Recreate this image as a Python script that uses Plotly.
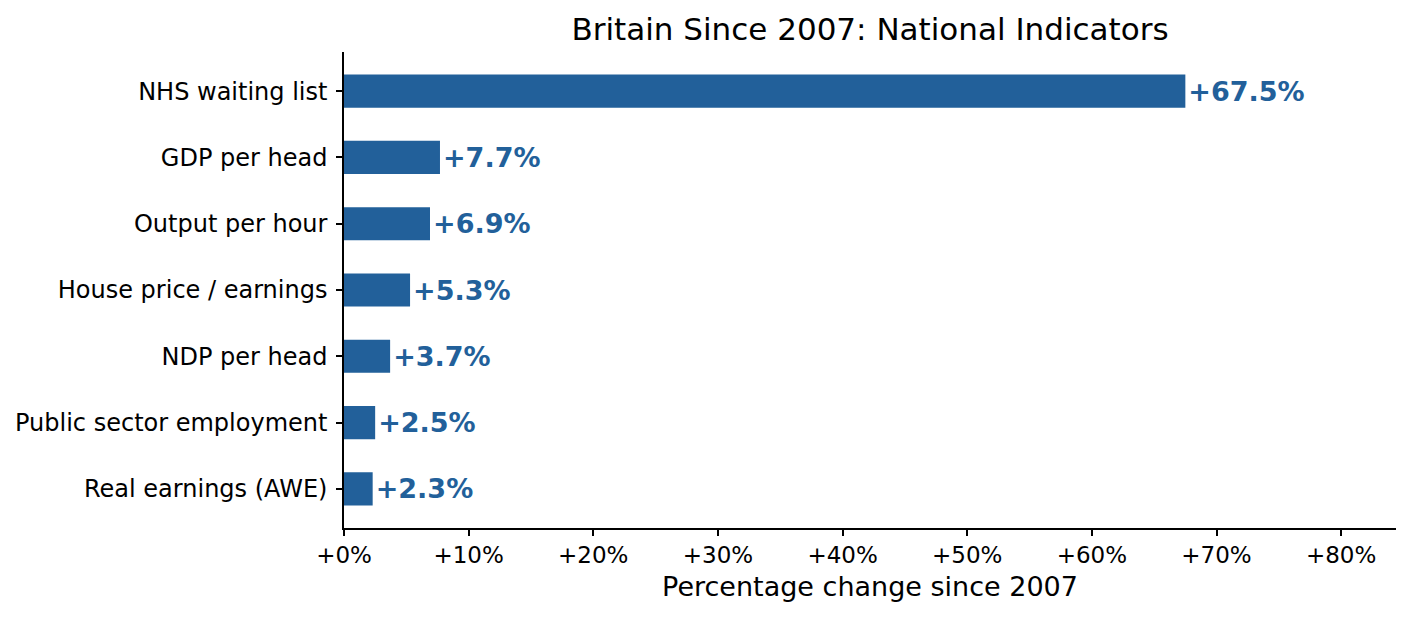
import plotly.graph_objects as go

# =========================
# Dados
# =========================
indicadores = [
    "Real earnings (AWE)",
    "Public sector employment",
    "NDP per head",
    "House price / earnings",
    "Output per hour",
    "GDP per head",
    "NHS waiting list",
]
variacao = [2.3, 2.5, 3.7, 5.3, 6.9, 7.7, 67.5]

ticks_x = [0, 10, 20, 30, 40, 50, 60, 70, 80]
ticks_x_txt = ["+0%", "+10%", "+20%", "+30%", "+40%", "+50%", "+60%", "+70%", "+80%"]

cor = "#22609A"

# =========================
# Gráfico
# =========================
fig = go.Figure()

fig.add_trace(go.Bar(
    x=variacao,
    y=indicadores,
    orientation="h",
    width=0.5,
    marker=dict(color=cor, line=dict(width=0)),
    text=[f"+{v:.1f}%" for v in variacao],
    textposition="outside",
    cliponaxis=False,
    textfont=dict(family="DejaVu Sans", size=27, color=cor, weight="bold"),
    hovertemplate="%{y}: %{x:.1f}%<extra></extra>",
))

# a página tem margem de 8px no body -> compensa aqui
fig.update_layout(
    width=1403,
    height=612,
    plot_bgcolor="white",
    paper_bgcolor="white",
    font=dict(family="DejaVu Sans", size=23, color="black"),
    margin=dict(l=336, r=15, t=44, b=92),
    showlegend=False,
    title=dict(
        text="Britain Since 2007: National Indicators",
        xref="paper",
        x=0.5,
        xanchor="center",
        y=0.965,
        yanchor="middle",
        font=dict(size=31, color="black"),
    ),
    xaxis=dict(
        range=[0, 84.4],
        tickvals=ticks_x,
        ticktext=ticks_x_txt,
        showgrid=False,
        zeroline=False,
        showline=True,
        linecolor="black",
        linewidth=1.5,
        ticks="outside",
        ticklen=6,
        tickwidth=1.5,
        tickcolor="black",
        automargin=False,
        title=dict(text="Percentage change since 2007", font=dict(size=27), standoff=10),
    ),
    yaxis=dict(
        range=[-0.59, 6.59],
        showgrid=False,
        zeroline=False,
        showline=True,
        linecolor="black",
        linewidth=1.5,
        ticks="outside",
        ticklen=6,
        tickwidth=1.5,
        tickcolor="black",
        tickfont=dict(size=24),
        ticklabelstandoff=4,
        automargin=False,
    ),
)

fig.write_html("out.html")
